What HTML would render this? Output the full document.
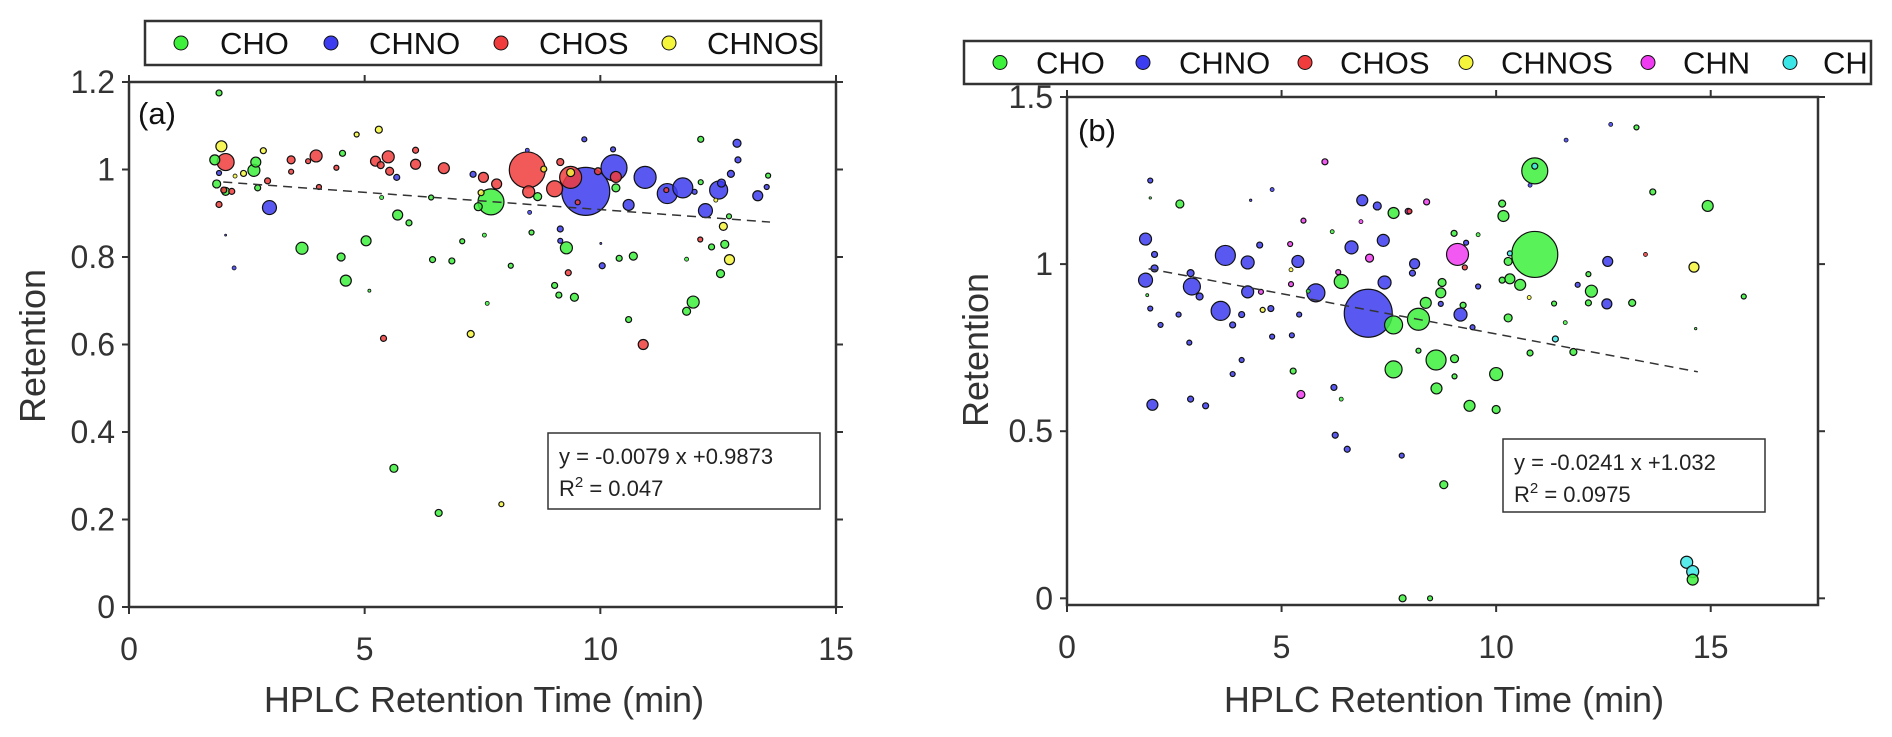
<!DOCTYPE html>
<html><head><meta charset="utf-8"><style>
html,body{margin:0;padding:0;background:#fff;}
svg{display:block;font-family:"Liberation Sans",Arial,sans-serif;}
</style></head><body>
<svg id="fig" width="1892" height="737" viewBox="0 0 1892 737" xmlns="http://www.w3.org/2000/svg"></svg>
<script>
// ---- Panel (a) data: [x, retention, marker radius] ----
const aCHO=[[1.91,1.175,3],[1.82,1.022,5],[1.86,0.967,4],[2.05,0.95,4],[2.65,0.998,6],[2.69,1.017,5],[2.73,0.958,3],[3.67,0.82,6],[4.5,0.80,4],[4.6,0.746,5.5],[4.53,1.037,3],[5.03,0.837,5],[5.1,0.723,1.5],[5.36,0.936,2],[5.7,0.896,5],[5.94,0.878,3],[5.62,0.317,4],[6.44,0.794,3],[6.41,0.936,2.5],[6.85,0.791,3],[7.07,0.836,2.5],[6.57,0.215,3.5],[7.6,0.694,2],[7.54,0.85,2],[7.68,0.926,13],[7.41,0.915,4],[8.1,0.78,2.5],[8.54,0.856,2.5],[8.67,0.938,4],[9.03,0.735,3],[9.12,0.713,3],[9.45,0.708,4],[9.28,0.821,6],[10.33,0.958,4],[10.4,0.797,3],[10.7,0.802,4],[10.6,0.657,3],[11.83,0.795,2],[11.97,0.697,6],[11.83,0.676,4],[12.13,1.069,3],[12.13,0.971,2.5],[12.36,0.823,3],[12.55,0.762,4],[12.64,0.829,4],[12.73,0.893,2.5],[13.56,0.986,2.5]];
const aCHNO=[[1.91,0.992,2.5],[2.98,0.913,7],[2.05,0.85,1],[2.23,0.775,2],[5.68,0.982,3],[7.30,0.989,3],[9.69,0.95,24],[9.66,1.069,2.5],[10.29,1.004,13],[10.27,1.046,2.5],[10.6,0.919,5.5],[10.95,0.982,11],[11.42,0.945,10],[11.75,0.958,10],[12.51,0.953,9],[12.23,0.906,7],[12.9,1.06,4],[12.92,1.022,3],[12.77,0.99,3.5],[12.57,0.969,4],[13.34,0.94,5],[13.53,0.96,2.5],[9.15,0.864,3],[9.15,0.837,2.5],[10.04,0.78,3],[10.01,0.831,1],[8.5,0.902,2],[8.45,1.044,2],[12.0,0.949,2.5]];
const aCHOS=[[2.05,1.017,8.5],[1.91,0.92,3],[2.01,0.953,3],[2.18,0.95,3],[2.94,0.974,3],[3.44,1.022,4],[3.44,0.995,2.5],[3.97,1.031,6],[3.80,1.019,2.5],[4.03,0.96,2.5],[4.4,1.004,2.5],[5.23,1.019,5],[5.5,1.029,6],[5.34,1.01,3.5],[5.53,0.996,4],[6.08,1.044,3],[6.08,1.012,5],[6.68,1.003,5.5],[5.40,0.614,3],[7.52,0.982,5],[7.8,0.967,5],[8.45,0.999,18],[8.48,0.949,6],[9.03,0.956,8],[9.15,1.017,3.5],[9.37,0.982,11],[9.95,0.996,3.5],[10.33,0.983,5.5],[10.91,0.6,5],[9.32,0.764,3],[11.4,0.953,2.5],[12.12,0.84,2.5],[9.52,0.925,2.5]];
const aCHNOS=[[1.96,1.053,5.5],[2.85,1.043,3],[2.43,0.991,3],[2.25,0.985,2],[4.83,1.08,2.5],[5.3,1.091,3.5],[7.25,0.624,3.5],[7.9,0.235,2.5],[12.61,0.87,4],[12.74,0.794,5],[9.37,0.993,4],[8.8,1.001,3],[7.47,0.947,3],[12.45,0.93,2]];
const aFit=[-0.0079,0.9873]; const aFitRange=[2,13.6];
const aXTicks=[0,5,10,15]; const aYTicks=[0,0.2,0.4,0.6,0.8,1,1.2];
const aYTickLabels=["0","0.2","0.4","0.6","0.8","1","1.2"];

// ---- Panel (b) data ----
const bCHO=[[2.63,1.18,4],[1.87,0.907,1.5],[1.94,1.198,1.2],[7.61,1.153,5.5],[6.39,0.948,7],[6.18,1.097,2],[7.61,0.818,9],[8.19,0.835,11],[8.36,0.884,5.5],[8.71,0.914,5],[8.74,0.945,4],[7.61,0.685,8.5],[8.6,0.713,10],[8.61,0.628,5.5],[9.03,0.717,4],[9.03,0.664,2.5],[9.38,0.576,5.5],[10.0,0.671,6.5],[10.0,0.565,4],[8.78,0.34,4],[10.28,0.839,4],[10.79,0.734,3],[10.9,1.029,23],[10.9,1.279,13],[10.14,1.181,3.5],[10.17,1.144,5.5],[10.28,1.008,4],[10.32,0.956,5],[10.56,0.938,5.5],[10.14,0.952,3],[9.02,1.092,3],[9.58,1.088,2],[9.23,0.877,3],[11.35,0.882,2.5],[11.61,0.825,2],[11.8,0.737,3.5],[12.15,0.97,2.5],[12.22,0.919,6],[12.15,0.884,3],[13.17,0.884,3.5],[13.27,1.409,2.5],[13.65,1.216,3],[14.93,1.174,5.5],[15.77,0.903,2.5],[14.65,0.807,1.2],[5.27,0.68,3],[6.39,0.596,2],[7.82,0.0,3.5],[8.46,0.0,2.5],[14.58,0.056,5.5],[8.19,0.741,2.5],[5.62,0.919,2]];
const bCHNO=[[1.83,1.075,6],[1.94,1.25,2.5],[2.04,1.029,3],[2.04,0.987,3.5],[1.83,0.952,7],[1.94,0.867,2.5],[2.18,0.818,2.5],[1.99,0.579,5.5],[2.88,0.973,3.5],[2.91,0.933,8.5],[3.09,0.903,3.5],[2.6,0.849,2.5],[2.85,0.765,2.5],[2.88,0.596,3],[3.23,0.576,3],[3.69,1.026,10],[3.58,0.86,9.5],[4.21,1.005,6.5],[4.21,0.917,6],[4.07,0.849,3],[3.86,0.818,3],[4.07,0.713,2.5],[3.86,0.671,2.5],[4.49,1.057,3],[4.78,1.223,2],[4.28,1.191,1.2],[4.78,0.783,2.5],[4.75,0.867,3],[5.38,1.008,6],[5.8,0.914,9],[5.41,0.849,2.5],[5.24,0.787,2.5],[6.22,0.631,3],[6.25,0.488,3],[6.53,0.446,3],[6.63,1.05,6.5],[6.88,1.191,5.5],[7.23,1.174,4],[7.02,0.853,24],[7.4,0.945,6.5],[7.37,1.071,6],[8.1,1.001,5],[8.05,0.973,3],[7.8,0.427,2.5],[9.17,0.849,6.5],[9.58,0.933,2.5],[9.3,1.064,2.5],[11.63,1.371,2],[12.67,1.418,2],[12.6,1.008,5],[12.58,0.881,5],[11.9,0.938,2.5],[10.79,1.236,2],[9.45,0.811,2.5],[8.71,0.881,2.5]];
const bCHOS=[[13.48,1.029,2],[9.27,0.99,2.5],[7.98,1.158,2.5]];
const bCHNOS=[[14.61,0.991,5],[4.56,0.863,2.5],[5.22,0.983,2],[10.77,0.9,2]];
const bCHN=[[6.01,1.306,3],[5.51,1.13,2.5],[5.2,1.06,2.5],[5.22,0.94,2.5],[5.45,0.61,4],[7.05,1.018,4],[6.32,0.976,2.5],[8.38,1.186,3],[7.95,1.158,3],[9.1,1.029,11],[4.52,0.917,2.5],[6.85,1.127,2]];
const bCH=[[14.44,0.108,6],[14.58,0.08,6],[11.38,0.776,3],[10.32,1.032,2.5],[10.9,1.293,3]];
const bFit=[-0.0241,1.032]; const bFitRange=[1.9,14.7];
const bXTicks=[0,5,10,15]; const bYTicks=[0,0.5,1,1.5];
const bYTickLabels=["0","0.5","1","1.5"];

const COL={CHO:"#3cf03c",CHNO:"#3c3cf0",CHOS:"#f03c3c",CHNOS:"#f5f53c",CHN:"#f03cf0",CH:"#3ce6e6"};
const NS="http://www.w3.org/2000/svg";
const svg=document.getElementById('fig');
function mk(tag,attrs,parent){const e=document.createElementNS(NS,tag);for(const k in attrs)e.setAttribute(k,attrs[k]);(parent||svg).appendChild(e);return e;}

function panel(cfg){
  const g=mk('g',{});
  
  
  const sx=v=>cfg.L+(v-cfg.xmin)/(cfg.xmax-cfg.xmin)*(cfg.R-cfg.L);
  const sy=v=>cfg.B-(v-cfg.ymin)/(cfg.ymax-cfg.ymin)*(cfg.B-cfg.T);
  const pts=[];
  cfg.series.forEach(s=>s.data.forEach(d=>pts.push({x:d[0],y:d[1],r:d[2],c:COL[s.name],n:s.name})));
  pts.sort((a,b)=>b.r-a.r);
  const pg=mk('g',{},g);
  
  
  pts.forEach(p=>{
    const c=mk('circle',{cx:sx(p.x),cy:sy(p.y),r:p.r,fill:p.c,'fill-opacity':0.85,stroke:'#111','stroke-width':p.r>2?1.2:0.8},pg);
    
    
  });
  const fl=mk('line',{x1:sx(cfg.fitR[0]),y1:sy(cfg.fit[0]*cfg.fitR[0]+cfg.fit[1]),x2:sx(cfg.fitR[1]),y2:sy(cfg.fit[0]*cfg.fitR[1]+cfg.fit[1]),stroke:'#333','stroke-width':1.5,'stroke-dasharray':'9,6'},g);
  
  
  const bx=mk('rect',{x:cfg.L,y:cfg.T,width:cfg.R-cfg.L,height:cfg.B-cfg.T,fill:'none',stroke:'#333','stroke-width':2.5},g);
  
  
  cfg.xt.forEach(v=>{
    const x=sx(v);
    mk('line',{x1:x,y1:cfg.B,x2:x,y2:cfg.B+7,stroke:'#333','stroke-width':2},g);
    mk('line',{x1:x,y1:cfg.T,x2:x,y2:cfg.T-7,stroke:'#333','stroke-width':2},g);
    const t=mk('text',{x:x,y:cfg.B+53,'font-size':32,'text-anchor':'middle',fill:'#333'},g);
    t.textContent=String(v);
    
    
  });
  cfg.yt.forEach((v,i)=>{
    const y=sy(v);
    mk('line',{x1:cfg.L,y1:y,x2:cfg.L-7,y2:y,stroke:'#333','stroke-width':2},g);
    mk('line',{x1:cfg.R,y1:y,x2:cfg.R+7,y2:y,stroke:'#333','stroke-width':2},g);
    const t=mk('text',{x:cfg.L-14,y:y+11,'font-size':32,'text-anchor':'end',fill:'#333'},g);
    t.textContent=cfg.ytl[i];
    
    
  });
  const xt=mk('text',{x:cfg.xtx,y:712,'font-size':36,'text-anchor':'middle',fill:'#333'},g);
  xt.textContent='HPLC Retention Time (min)';
  
  
  const yt=mk('text',{x:0,y:0,'font-size':36,'text-anchor':'middle',fill:'#333',transform:`translate(${cfg.ytx},${cfg.yty}) rotate(-90)`},g);
  yt.textContent='Retention';
  
  
  const pl=mk('text',{x:cfg.plx,y:cfg.ply,'font-size':31,fill:'#111'},g);
  pl.textContent=cfg.label;
  
  
  const eb=mk('rect',{x:cfg.eq[0],y:cfg.eq[1],width:cfg.eq[2],height:cfg.eq[3],fill:'#fff',stroke:'#333','stroke-width':1.5},g);
  
  
  const e1=mk('text',{x:cfg.eq[0]+11,y:cfg.eq[1]+31,'font-size':22,fill:'#222'},g);
  e1.textContent=cfg.eqt;
  
  
  const e2=mk('text',{x:cfg.eq[0]+11,y:cfg.eq[1]+63,'font-size':22,fill:'#222'},g);
  e2.innerHTML='R<tspan dy="-9" font-size="15">2</tspan><tspan dy="9"> = '+cfg.r2+'</tspan>';
  
  
  const lg=mk('g',{},g);
  
  
  mk('rect',{x:cfg.leg[0],y:cfg.leg[1],width:cfg.leg[2],height:cfg.leg[3],fill:'#fff',stroke:'#333','stroke-width':2.5},lg);
  cfg.legE.forEach(e=>{
    const ee=mk('g',{},lg);
    
    
    const cy=cfg.leg[1]+cfg.leg[3]/2;
    mk('circle',{cx:e[1],cy:cy,r:7,fill:COL[e[0]],stroke:'#111','stroke-width':1},ee);
    const t=mk('text',{x:e[2],y:cy+11,'font-size':31,fill:'#111'},ee);
    t.textContent=e[0];
  });
}

panel({id:'a',L:129,R:836,T:82,B:607,xmin:0,xmax:15,ymin:0,ymax:1.2,xt:aXTicks,yt:aYTicks,ytl:aYTickLabels,
  series:[{name:'CHO',data:aCHO},{name:'CHNO',data:aCHNO},{name:'CHOS',data:aCHOS},{name:'CHNOS',data:aCHNOS}],
  fit:aFit,fitR:aFitRange,xtx:484,ytx:45,yty:346,label:'(a)',plx:138,ply:124,
  eq:[548,433,272,76],eqt:'y = -0.0079 x +0.9873',r2:'0.047',
  leg:[145,21,676,44],legE:[['CHO',181,220],['CHNO',331,369],['CHOS',501,539],['CHNOS',669,707]]});
panel({id:'b',L:1067,R:1818,T:97,B:605,xmin:0,xmax:17.5,ymin:-0.02,ymax:1.5,xt:bXTicks,yt:bYTicks,ytl:bYTickLabels,
  series:[{name:'CHO',data:bCHO},{name:'CHNO',data:bCHNO},{name:'CHOS',data:bCHOS},{name:'CHNOS',data:bCHNOS},{name:'CHN',data:bCHN},{name:'CH',data:bCH}],
  fit:bFit,fitR:bFitRange,xtx:1444,ytx:988,yty:350,label:'(b)',plx:1078,ply:141,
  eq:[1503,439,262,73],eqt:'y = -0.0241 x +1.032',r2:'0.0975',
  leg:[964,41,907,43],legE:[['CHO',1000,1036],['CHNO',1143,1179],['CHOS',1305,1340],['CHNOS',1466,1501],['CHN',1648,1683],['CH',1790,1823]]});
</script>
</body></html>
